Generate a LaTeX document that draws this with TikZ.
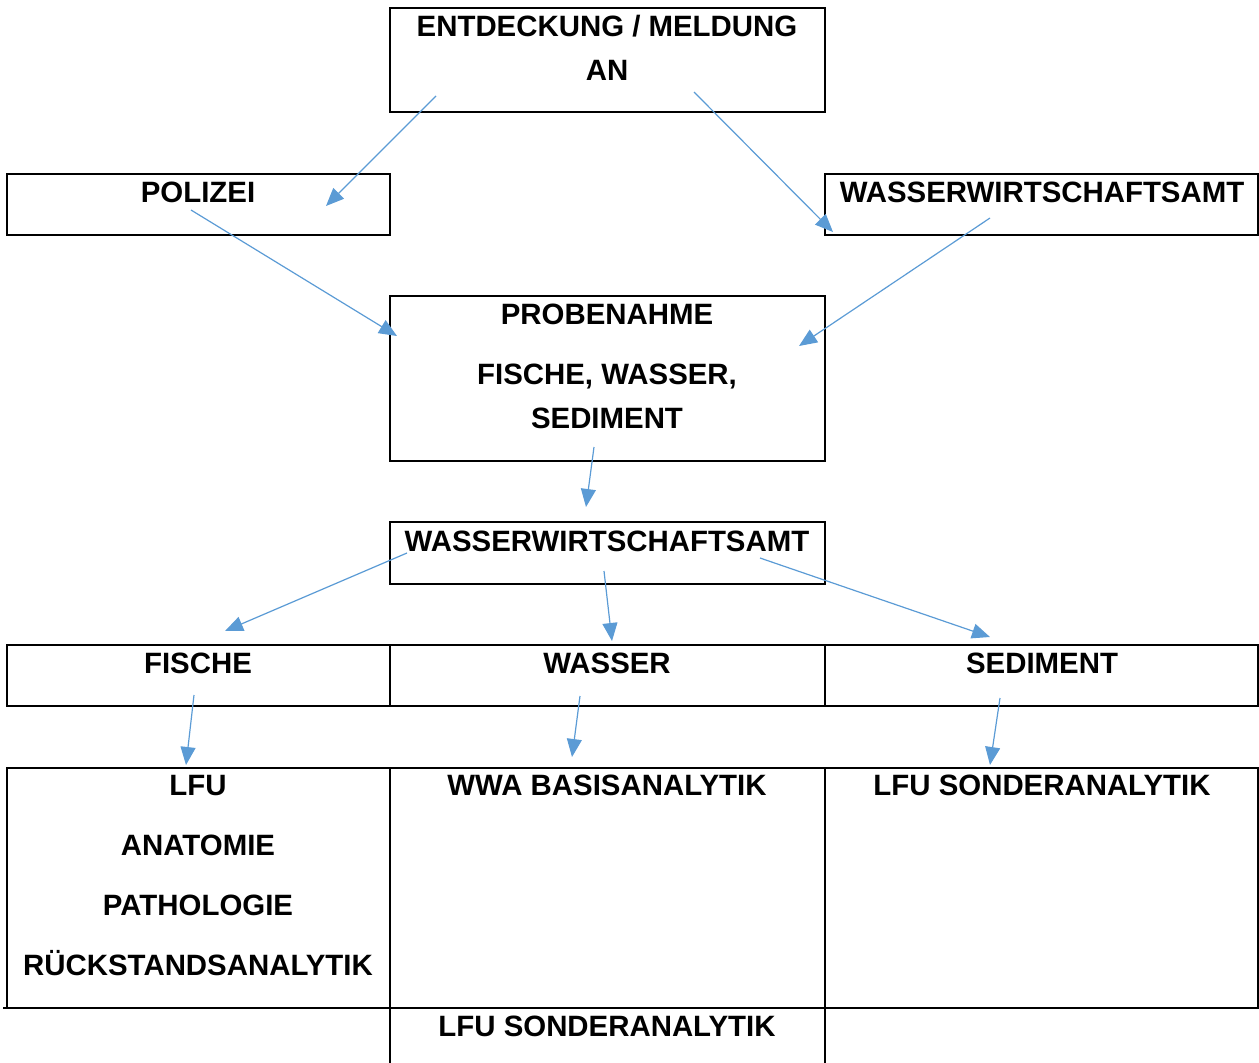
\documentclass[tikz,border=0pt]{standalone}
\usepackage{fontspec}
\setmainfont{Liberation Sans}
\usetikzlibrary{arrows.meta}
\definecolor{pfeilblau}{RGB}{91,155,213}
\tikzset{
  box/.style={draw=black, line width=1.6pt, inner sep=0pt, outer sep=0pt},
  lbl/.style={font=\bfseries\fontsize{29.4}{34}\selectfont, anchor=base, inner sep=0pt},
  pfeil/.style={draw=pfeilblau, line width=1.2pt, -{Triangle[length=18pt,width=15pt]}}
}
\begin{document}
\begin{tikzpicture}[x=1pt,y=-1pt]

  \useasboundingbox (0,0) rectangle (1259,1063);

  % boxes
  \node[box, minimum width=435pt, minimum height=104pt] (melde) at (607.5,60) {};
  \node[box, minimum width=383pt, minimum height=61pt] (polizei) at (198.5,204.5) {};
  \node[box, minimum width=433pt, minimum height=61pt] (wwaoben) at (1041.5,204.5) {};
  \node[box, minimum width=435pt, minimum height=165pt] (probe) at (607.5,378.5) {};
  \node[box, minimum width=435pt, minimum height=62pt] (wwamitte) at (607.5,553) {};
  \node[box, minimum width=383pt, minimum height=61pt] (fische) at (198.5,675.5) {};
  \node[box, minimum width=435pt, minimum height=61pt] (wasser) at (607.5,675.5) {};
  \node[box, minimum width=433pt, minimum height=61pt] (sediment) at (1041.5,675.5) {};
  \node[box, minimum width=383pt, minimum height=240pt] (lfu) at (198.5,888) {};
  \node[box, minimum width=435pt, minimum height=240pt] (basis) at (607.5,888) {};
  \node[box, minimum width=433pt, minimum height=240pt] (sonder) at (1041.5,888) {};

  % last row, open at the bottom
  \draw[line width=1.6pt] (3,1008) -- (1258,1008);
  \draw[line width=1.6pt] (390,1008) -- (390,1070);
  \draw[line width=1.6pt] (825,1008) -- (825,1070);

  % texts
  \node[lbl] (t1) at (607,36) {ENTDECKUNG / MELDUNG};
  \node[lbl] (t2) at (607,80) {AN};
  \node[lbl] (t3) at (198,202) {POLIZEI};
  \node[lbl] (t4) at (1042,202) {WASSERWIRTSCHAFTSAMT};
  \node[lbl] (t5) at (607,324) {PROBENAHME};
  \node[lbl] (t6) at (607,384) {FISCHE, WASSER,};
  \node[lbl] (t7) at (607,428) {SEDIMENT};
  \node[lbl] (t8) at (607,551) {WASSERWIRTSCHAFTSAMT};
  \node[lbl] (t9) at (198,673) {FISCHE};
  \node[lbl] (t10) at (607,673) {WASSER};
  \node[lbl] (t11) at (1042,673) {SEDIMENT};
  \node[lbl] (t12) at (198,795) {LFU};
  \node[lbl] (t13) at (198,855) {ANATOMIE};
  \node[lbl] (t14) at (198,915) {PATHOLOGIE};
  \node[lbl] (t15) at (198,975) {RÜCKSTANDSANALYTIK};
  \node[lbl] (t16) at (607,795) {WWA BASISANALYTIK};
  \node[lbl] (t17) at (1042,795) {LFU SONDERANALYTIK};
  \node[lbl] (t18) at (607,1036) {LFU SONDERANALYTIK};

  % arrow ends
  \coordinate (a1) at (436,96);   \coordinate (b1) at (326,206);
  \coordinate (a2) at (694,92);   \coordinate (b2) at (833,232);
  \coordinate (a3) at (191,210);  \coordinate (b3) at (397,336);
  \coordinate (a4) at (990,218);  \coordinate (b4) at (799,346);
  \coordinate (a5) at (594,447);  \coordinate (b5) at (586,507);
  \coordinate (a6) at (407,553);  \coordinate (b6) at (225,631);
  \coordinate (a7) at (604,571);  \coordinate (b7) at (612,641);
  \coordinate (a8) at (760,558);  \coordinate (b8) at (990,637);
  \coordinate (a9) at (194,695);  \coordinate (b9) at (186,765);
  \coordinate (a10) at (580,696); \coordinate (b10) at (572,757);
  \coordinate (a11) at (1000,698); \coordinate (b11) at (990,765);

  % arrows
  \foreach \i in {1,...,11}
    \draw[pfeil] (a\i) -- (b\i);

\end{tikzpicture}
\end{document}
